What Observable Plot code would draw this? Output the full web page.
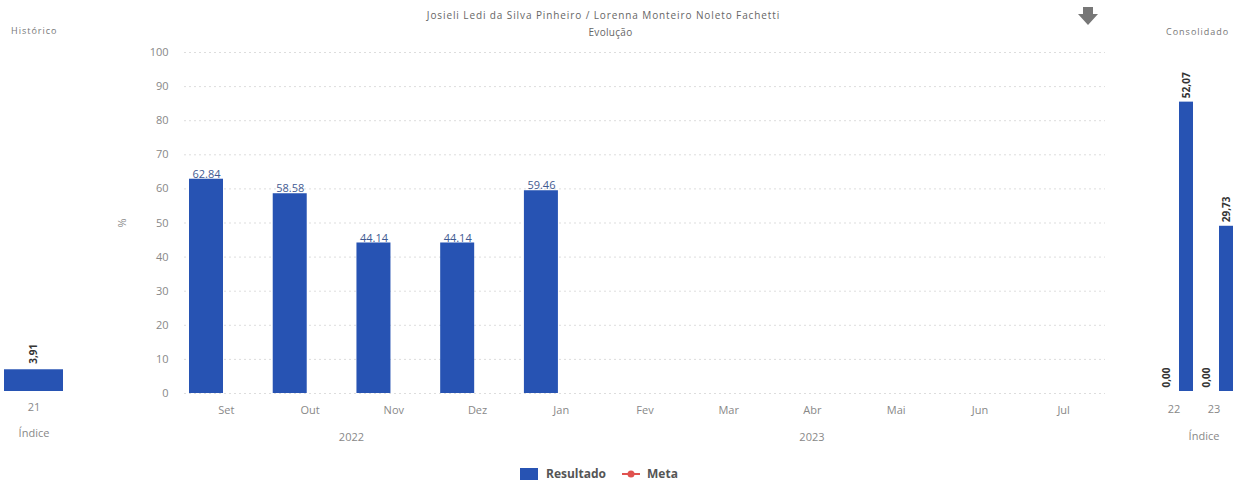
<!DOCTYPE html>
<html>
<head>
<meta charset="utf-8">
<script src="https://cdn.jsdelivr.net/npm/d3@7"></script>
<script src="https://cdn.jsdelivr.net/npm/@observablehq/plot@0.6"></script>
<style>
  html, body { margin: 0; padding: 0; background: #fff; }
  #root { position: relative; width: 1233px; height: 481px; overflow: hidden; background: #fff; font-family: "Open Sans", sans-serif; }
  .abs { position: absolute; }
  #root svg { max-width: none !important; }
  .small { font-size: 9px; color: #777; line-height: 12px; white-space: nowrap; letter-spacing: 1px; }
  .legend { font-size: 12px; font-weight: bold; color: #555; display: flex; align-items: center; height: 18px; line-height: 18px; white-space: nowrap; }
</style>
</head>
<body>
<div id="root">
  <div class="abs small" style="left:0;top:9px;width:1233px;text-align:center;font-size:10px;color:#666;letter-spacing:0.9px;"><span style="position:relative;left:-13px">Josieli Ledi da Silva Pinheiro / Lorenna Monteiro Noleto Fachetti</span></div>
  <div class="abs small" style="left:0;top:26px;width:1233px;text-align:center;font-size:10px;color:#666;letter-spacing:0.3px;"><span style="position:relative;left:-6px">Evolução</span></div>
  <div class="abs small" style="left:11px;top:25px;">Histórico</div>
  <div class="abs small" style="left:1166px;top:26px;">Consolidado</div>
  <svg class="abs" style="left:1077px;top:5px" width="22" height="22" viewBox="0 0 22 22">
    <polygon points="6,2 16,2 16,9 21,9 11,20 1,9 6,9" fill="#777"/>
  </svg>
  <div id="left" class="abs" style="left:0;top:40px;width:68px;"></div>
  <div id="main" class="abs" style="left:100px;top:40px;width:1020px;"></div>
  <div id="right" class="abs" style="left:1140px;top:40px;width:120px;"></div>
  <div class="abs legend" style="left:520px;top:465px;width:200px;">
    <span style="display:inline-block;width:18px;height:12px;background:#2753b3;margin-right:8px"></span>
    <span>Resultado</span>
    <svg width="18" height="12" style="margin-left:16px;margin-right:7px"><line x1="0" y1="6" x2="18" y2="6" stroke="#e0524f" stroke-width="2"/><circle cx="9" cy="6" r="3.5" fill="#e0524f"/></svg>
    <span>Meta</span>
  </div>
</div>
<script>
// ---- data ----
const months = ["Set", "Out", "Nov", "Dez", "Jan", "Fev", "Mar", "Abr", "Mai", "Jun", "Jul"];
const monthYears = ["2022", "2022", "2022", "2022", "2023", "2023", "2023", "2023", "2023", "2023", "2023"];
const resultado = [62.84, 58.58, 44.14, 44.14, 59.46, null, null, null, null, null, null];
const yTicks = [0, 10, 20, 30, 40, 50, 60, 70, 80, 90, 100];

const historicoIndice = ["21"];
const historicoValor = [3.91];

const consolidadoAnos = ["22", "23"];
const consolidadoSeries = ["Meta", "Resultado"];
const consolidadoMeta = [0.00, 0.00];
const consolidadoResultado = [52.07, 29.73];

// ---- styles ----
const blue = "#2753b3";
const font = "Open Sans";
const fmtComma = v => v.toFixed(2).replace(".", ",");

function addText(svg, x, y, txt, size) {
  svg.append("text")
    .attr("x", x).attr("y", y)
    .attr("text-anchor", "middle")
    .attr("dominant-baseline", "central")
    .attr("fill", "#888")
    .attr("font-family", font)
    .attr("font-size", size)
    .text(txt);
}

// ---- main chart ----
const mainData = months.map((m, i) => ({mes: m, ano: monthYears[i], valor: resultado[i]}));
const mainBars = mainData.filter(d => d.valor != null);
const W = 1020, H = 410, ML = 84, MR = 15, MT = 12, MB = 57;
const band = (W - ML - MR) / months.length;

const main = Plot.plot({
  width: W, height: H, marginLeft: ML, marginRight: MR, marginTop: MT, marginBottom: MB,
  style: {fontFamily: font, fontSize: "11px", color: "#888", background: "transparent"},
  x: {domain: months, padding: 0, round: false, label: null, tickSize: 0, tickPadding: 13},
  y: {domain: [0, 100], ticks: yTicks, label: "%", labelAnchor: "center", labelArrow: "none", tickSize: 0, tickPadding: 16, labelOffset: 66},
  marks: [
    Plot.gridY(yTicks, {stroke: "#cfcfcf", strokeDasharray: "2,3", strokeOpacity: 0.7}),
    Plot.barY(mainBars, {x: "mes", y: "valor", fill: blue, insetLeft: 5, insetRight: band - 39}),
    Plot.text(mainBars, {x: "mes", y: "valor", text: d => d.valor.toFixed(2), dx: 22 - band / 2, dy: -5, fill: "#3f5a92", fontSize: 11})
  ]
});
document.getElementById("main").appendChild(main);

// year labels under months, centred on each year's group of months
{
  const xs = main.scale("x");
  const svg = d3.select(main);
  for (const [ano, rows] of d3.groups(mainData, d => d.ano)) {
    const x0 = xs.apply(rows[0].mes);
    const x1 = xs.apply(rows[rows.length - 1].mes) + xs.bandwidth;
    addText(svg, (x0 + x1) / 2, H - MB + 43, ano, 11);
  }
}

// ---- left (Histórico) ----
const histData = historicoIndice.map((k, i) => ({indice: k, valor: historicoValor[i]}));
const left = Plot.plot({
  width: 68, height: 410, marginLeft: 4, marginRight: 5, marginTop: 12, marginBottom: 59,
  style: {fontFamily: font, fontSize: "11px", color: "#888", background: "transparent"},
  x: {domain: historicoIndice, padding: 0, round: false, tickSize: 0, tickPadding: 12, label: "Índice", labelAnchor: "center", labelArrow: "none", labelOffset: 45},
  y: {domain: [0, 61], axis: null},
  marks: [
    Plot.barY(histData, {x: "indice", y: "valor", fill: blue}),
    Plot.text(histData, {x: "indice", y: "valor", text: d => fmtComma(d.valor), rotate: -90, textAnchor: "start", dy: -6, fontWeight: "bold", fontSize: 10, fill: "#333"})
  ]
});
document.getElementById("left").appendChild(left);

// ---- right (Consolidado) ----
const consData = [];
consolidadoAnos.forEach((a, i) => {
  consData.push({ano: a, serie: "Meta", key: a + "·Meta", valor: consolidadoMeta[i]});
  consData.push({ano: a, serie: "Resultado", key: a + "·Resultado", valor: consolidadoResultado[i]});
});
const RW = 120, RH = 410, RMB = 59;
const right = Plot.plot({
  width: RW, height: RH, marginLeft: 16, marginRight: 24, marginTop: 12, marginBottom: RMB,
  style: {fontFamily: font, fontSize: "11px", color: "#888", background: "transparent"},
  x: {domain: consData.map(d => d.key), padding: 0, round: false, axis: null},
  y: {domain: [0, 61], axis: null},
  marks: [
    Plot.barY(consData, {x: "key", y: "valor", fill: blue, insetLeft: 3, insetRight: 3}),
    Plot.text(consData, {x: "key", y: "valor", text: d => fmtComma(d.valor), rotate: -90, textAnchor: "start", dy: -4, fontWeight: "bold", fontSize: 10, fill: "#333"})
  ]
});
document.getElementById("right").appendChild(right);
{
  const xs = right.scale("x");
  const svg = d3.select(right);
  let allX0 = Infinity, allX1 = -Infinity;
  for (const [ano, rows] of d3.groups(consData, d => d.ano)) {
    const x0 = xs.apply(rows[0].key);
    const x1 = xs.apply(rows[rows.length - 1].key) + xs.bandwidth;
    allX0 = Math.min(allX0, x0); allX1 = Math.max(allX1, x1);
    addText(svg, (x0 + x1) / 2 - 2, RH - RMB + 17, ano, 11);
  }
  addText(svg, (allX0 + allX1) / 2 + 8, RH - RMB + 44, "Índice", 11);
}
</script>
</body>
</html>
